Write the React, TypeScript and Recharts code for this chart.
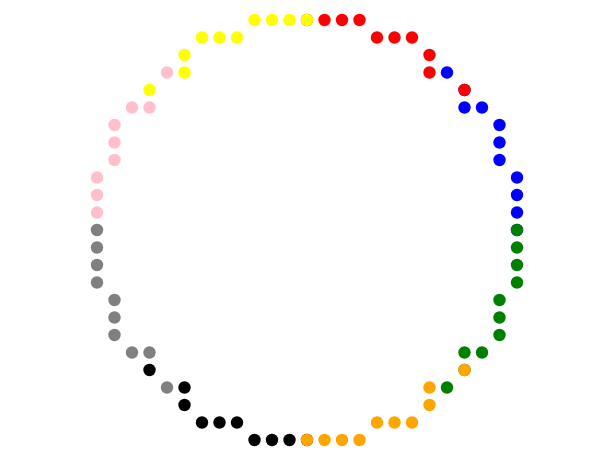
import React from 'react';
import { ScatterChart, Scatter, XAxis, YAxis } from 'recharts';

type Pt = { x: number; y: number };

// points on the ring, one list per colour
const blueX = [8, 9, 9, 10, 11, 11, 11, 12, 12, 12, 12];
const blueY = [9, 8, 7, 7, 6, 5, 4, 3, 2, 1, 0];
const redX = [0, 1, 2, 3, 4, 5, 6, 7, 7, 9];
const redY = [12, 12, 12, 12, 11, 11, 11, 10, 9, 8];
const yellowX = [-3, -2, -1, 0, -6, -5, -4, -7, -7, -9];
const yellowY = [12, 12, 12, 12, 11, 11, 11, 10, 9, 8];
const pinkX = [-8, -10, -9, -11, -11, -11, -12, -12, -12, -12];
const pinkY = [9, 7, 7, 6, 5, 4, 3, 2, 1, 0];
const blackX = [-9, -7, -7, -6, -5, -4, -3, -2, -1, 0];
const blackY = [-8, -9, -10, -11, -11, -11, -12, -12, -12, -12];
const grayX = [-12, -12, -12, -12, -11, -11, -11, -10, -9, -8];
const grayY = [0, -1, -2, -3, -4, -5, -6, -7, -7, -9];
const greenX = [12, 12, 12, 12, 11, 11, 11, 10, 9, 9, 8];
const greenY = [0, -1, -2, -3, -4, -5, -6, -7, -7, -8, -9];
const orangeX = [9, 7, 7, 6, 5, 4, 3, 2, 1, 0];
const orangeY = [-8, -9, -10, -11, -11, -11, -12, -12, -12, -12];

const zip = (xs: number[], ys: number[]): Pt[] => xs.map((x, i) => ({ x, y: ys[i] }));

// drawn bottom to top
const SERIES = [
  { name: 'blue', color: '#0000ff', data: zip(blueX, blueY) },
  { name: 'red', color: '#ff0000', data: zip(redX, redY) },
  { name: 'yellow', color: '#ffff00', data: zip(yellowX, yellowY) },
  { name: 'pink', color: '#ffc0cb', data: zip(pinkX, pinkY) },
  { name: 'black', color: '#000000', data: zip(blackX, blackY) },
  { name: 'gray', color: '#808080', data: zip(grayX, grayY) },
  { name: 'green', color: '#008000', data: zip(greenX, greenY) },
  { name: 'orange', color: '#ffa500', data: zip(orangeX, orangeY) },
];

const Dot = (props: any) => {
  const { cx, cy, fill } = props;
  return <circle cx={cx} cy={cy} r={6.2} fill={fill} />;
};

export default function App() {
  return (
    <div style={{ position: 'absolute', left: 0, top: 0, background: '#fff' }}>
      <ScatterChart width={611} height={453} margin={{ top: 20, right: 94, bottom: 13, left: 97 }}>
        <XAxis type="number" dataKey="x" domain={[-12, 12]} hide />
        <YAxis type="number" dataKey="y" domain={[-12, 12]} hide />
        {SERIES.map((s) => (
          <Scatter
            key={s.name}
            name={s.name}
            data={s.data}
            fill={s.color}
            shape={<Dot />}
            isAnimationActive={false}
          />
        ))}
      </ScatterChart>
    </div>
  );
}
